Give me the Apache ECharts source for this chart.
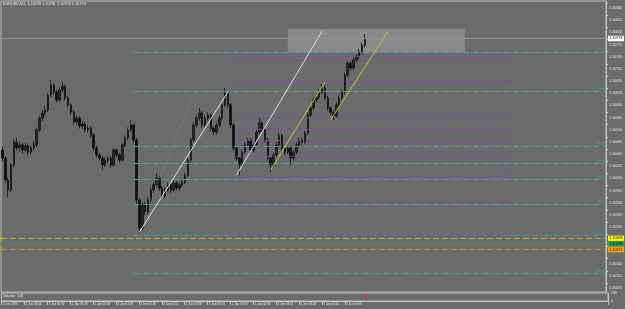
<!DOCTYPE html>
<html><head><meta charset="utf-8">
<script src="https://cdn.jsdelivr.net/npm/echarts@6/dist/echarts.min.js"></script>
<style>html,body{margin:0;padding:0;background:#6b6b6b;}#c{width:625px;height:309px;}</style>
</head><body><div id="c"></div>
<script>
// ---- data ----
const tickLabels = ["1 Jan 1970","1 Jan 00:16","1 Jan 00:32","1 Jan 00:48","1 Jan 01:04","1 Jan 01:20","1 Jan 01:36","1 Jan 01:52","1 Jan 02:08","1 Jan 02:24","1 Jan 02:40","1 Jan 02:56","1 Jan 03:12","1 Jan 03:28","1 Jan 03:44","1 Jan 04:00"];
const priceTicks = [1.10880,1.10845,1.10810,1.10775,1.10740,1.10705,1.10670,1.10635,1.10600,1.10565,1.10530,1.10495,1.10460,1.10425,1.10390,1.10355,1.10320,1.10285,1.10250,1.10215,1.10180,1.10145,1.10110,1.10075];
const volumeTicks = [0, 136];

const open = [1.10457,1.10434,1.10371,1.10342,1.10414,1.10480,1.10463,1.10472,1.10457,1.10469,
1.10451,1.10463,1.10472,1.10515,1.10549,1.10564,1.10572,1.10615,1.10644,1.10624,
1.10601,1.10630,1.10641,1.10607,1.10587,1.10566,1.10538,1.10549,1.10526,1.10532,
1.10515,1.10520,1.10500,1.10463,1.10443,1.10434,1.10414,1.10428,1.10434,1.10414,
1.10457,1.10443,1.10428,1.10472,1.10492,1.10515,1.10529,1.10486,1.10313,1.10233,
1.10299,1.10279,1.10313,1.10342,1.10357,1.10377,1.10348,1.10325,1.10342,1.10357,
1.10342,1.10362,1.10348,1.10357,1.10365,1.10385,1.10428,1.10486,1.10529,1.10549,
1.10564,1.10529,1.10549,1.10558,1.10520,1.10509,1.10529,1.10549,1.10587,1.10621,
1.10587,1.10529,1.10463,1.10434,1.10414,1.10451,1.10472,1.10486,1.10457,1.10472,
1.10509,1.10535,1.10515,1.10486,1.10434,1.10414,1.10443,1.10472,1.10500,1.10463,
1.10451,1.10463,1.10434,1.10451,1.10472,1.10486,1.10480,1.10506,1.10558,1.10578,
1.10601,1.10610,1.10624,1.10636,1.10607,1.10578,1.10566,1.10555,1.10587,1.10607,
1.10624,1.10673,1.10707,1.10693,1.10716,1.10725,1.10739,1.10759];
const close = [1.10434,1.10371,1.10342,1.10414,1.10480,1.10463,1.10472,1.10457,1.10469,1.10451,
1.10463,1.10472,1.10515,1.10549,1.10564,1.10572,1.10615,1.10644,1.10624,1.10601,
1.10630,1.10641,1.10607,1.10587,1.10566,1.10538,1.10549,1.10526,1.10532,1.10515,
1.10520,1.10500,1.10463,1.10443,1.10434,1.10414,1.10428,1.10434,1.10414,1.10457,
1.10443,1.10428,1.10472,1.10492,1.10515,1.10529,1.10486,1.10313,1.10233,1.10299,
1.10279,1.10313,1.10342,1.10357,1.10377,1.10348,1.10325,1.10342,1.10357,1.10342,
1.10362,1.10348,1.10357,1.10365,1.10385,1.10428,1.10486,1.10529,1.10549,1.10564,
1.10529,1.10549,1.10558,1.10520,1.10509,1.10529,1.10549,1.10587,1.10621,1.10587,
1.10529,1.10463,1.10434,1.10414,1.10451,1.10472,1.10486,1.10457,1.10472,1.10509,
1.10535,1.10515,1.10486,1.10434,1.10414,1.10443,1.10472,1.10500,1.10463,1.10451,
1.10463,1.10434,1.10451,1.10472,1.10486,1.10480,1.10506,1.10558,1.10578,1.10601,
1.10610,1.10624,1.10636,1.10607,1.10578,1.10566,1.10555,1.10587,1.10607,1.10624,
1.10673,1.10707,1.10693,1.10716,1.10725,1.10739,1.10759,1.10778];
const low = [1.10425,1.10362,1.10322,1.10336,1.10408,1.10455,1.10452,1.10447,1.10450,1.10442,
1.10445,1.10456,1.10466,1.10509,1.10540,1.10555,1.10566,1.10608,1.10616,1.10594,
1.10596,1.10622,1.10600,1.10579,1.10558,1.10530,1.10531,1.10519,1.10518,1.10507,
1.10508,1.10493,1.10455,1.10436,1.10426,1.10400,1.10408,1.10420,1.10406,1.10410,
1.10437,1.10420,1.10424,1.10466,1.10486,1.10509,1.10478,1.10300,1.10218,1.10226,
1.10270,1.10272,1.10306,1.10334,1.10350,1.10340,1.10318,1.10319,1.10336,1.10334,
1.10337,1.10341,1.10340,1.10350,1.10359,1.10380,1.10422,1.10480,1.10522,1.10541,
1.10521,1.10524,1.10542,1.10512,1.10500,1.10503,1.10523,1.10543,1.10581,1.10579,
1.10520,1.10455,1.10426,1.10385,1.10408,1.10445,1.10465,1.10450,1.10450,1.10467,
1.10503,1.10508,1.10479,1.10427,1.10394,1.10408,1.10437,1.10466,1.10456,1.10443,
1.10445,1.10414,1.10428,1.10445,1.10466,1.10473,1.10474,1.10500,1.10551,1.10572,
1.10594,1.10603,1.10617,1.10600,1.10570,1.10558,1.10543,1.10549,1.10581,1.10600,
1.10618,1.10667,1.10685,1.10687,1.10709,1.10718,1.10732,1.10752];
const high = [1.10466,1.10440,1.10378,1.10420,1.10489,1.10492,1.10481,1.10478,1.10477,1.10475,
1.10470,1.10482,1.10521,1.10556,1.10572,1.10583,1.10622,1.10659,1.10650,1.10630,
1.10637,1.10653,1.10646,1.10613,1.10592,1.10572,1.10557,1.10555,1.10540,1.10538,
1.10528,1.10526,1.10506,1.10470,1.10450,1.10440,1.10435,1.10441,1.10440,1.10463,
1.10462,1.10449,1.10478,1.10499,1.10522,1.10543,1.10535,1.10492,1.10320,1.10306,
1.10310,1.10320,1.10350,1.10366,1.10391,1.10383,1.10354,1.10350,1.10364,1.10362,
1.10370,1.10368,1.10364,1.10372,1.10392,1.10435,1.10492,1.10536,1.10557,1.10578,
1.10570,1.10556,1.10566,1.10563,1.10526,1.10536,1.10556,1.10594,1.10636,1.10628,
1.10592,1.10535,1.10470,1.10440,1.10458,1.10480,1.10493,1.10492,1.10478,1.10515,
1.10549,1.10541,1.10520,1.10492,1.10440,1.10450,1.10479,1.10507,1.10505,1.10469,
1.10470,1.10468,1.10458,1.10479,1.10493,1.10492,1.10513,1.10565,1.10585,1.10608,
1.10618,1.10632,1.10647,1.10642,1.10613,1.10584,1.10572,1.10594,1.10614,1.10631,
1.10680,1.10714,1.10713,1.10723,1.10733,1.10747,1.10767,1.10791];

const volumeData = [[127, 120]];

// horizontal fibonacci levels (price) and their texts
const cyanLevels = [1.10738,1.10626,1.10467,1.10418,1.10372,1.10301,1.10211,1.10102];
const cyanTexts  = ["-27.2","0.0","38.2","50.0","61.8","78.6","100.0","127.2"];
const cyanRange  = [46, 211];
const purpleLevels = [1.10726,1.10654,1.10551,1.10516,1.10485,1.10439,1.10381,1.10306,1.10211];
const purpleTexts  = ["116.0","100.0","76.4","70.7","61.8","50.0","38.2","23.6","0.0"];
const purpleRange  = [82, 175];

// trend lines: [startIndex, startPrice, endIndex, endPrice]
const whiteLines  = [[48,1.10221,79,1.10624],[82,1.10385,112,1.10799]];
const yellowLines = [[94,1.10400,113,1.10653],[115,1.10544,135,1.10797]];
const faintLines  = [[52,1.10313,67,1.10615]];

// rectangle: [startIndex, topPrice, endIndex, bottomPrice]
const rectangle = [100,1.10805,162,1.10739];

// price level lines
const bidPrice = 1.10778;
const levelPrices = [1.10203, 1.10188, 1.10171];

const titleText = "EURUSD,M1  1.10759 1.10791 1.10752 1.10778";
const volumeText = "Volume: 136";

// ---- chart ----
const N = 212;
const categories = [];
for (let i = 0; i < N; i++) categories.push(String(i));
const candleData = open.map((o, i) => [o, close[i], low[i], high[i]]);
const labelInterval = (i) => i % 8 === 0 && i / 8 < tickLabels.length;

const FONT = 'Liberation Sans';
const cyanColor = '#3eaaa6', purpleColor = '#8b3fbf';
const levelStyles = [
  {line: '#b8aa3c', box: '#ffff00', text: '#000'},
  {line: '#4c8f6c', box: '#2fa05a', text: '#000'},
  {line: '#c58a2e', box: '#ffa000', text: '#000'}
];

const markLines = [];
cyanLevels.forEach((v, k) => markLines.push([
  {coord: [cyanRange[0], v], lineStyle: {color: cyanColor, width: 1, type: [5, 2, 1, 2]},
   label: {show: true, position: 'insideEndTop', formatter: cyanTexts[k], color: cyanColor, fontSize: 3.5, fontFamily: FONT, distance: 0.5}},
  {coord: [cyanRange[1], v]}
]));
purpleLevels.forEach((v, k) => markLines.push([
  {coord: [purpleRange[0], v], lineStyle: {color: purpleColor, width: 1, type: [5, 2, 1, 2]},
   label: {show: true, position: 'end', formatter: purpleTexts[k], color: purpleColor, fontSize: 3.5, fontFamily: FONT, distance: 1}},
  {coord: [purpleRange[1], v]}
]));
whiteLines.forEach(l => markLines.push([
  {coord: [l[0], l[1]], lineStyle: {color: '#e4e4e4', width: 1, type: 'solid'}, label: {show: false}},
  {coord: [l[2], l[3]]}
]));
yellowLines.forEach(l => markLines.push([
  {coord: [l[0], l[1]], lineStyle: {color: '#c9c140', width: 1, type: 'solid'}, label: {show: false}},
  {coord: [l[2], l[3]]}
]));
faintLines.forEach(l => markLines.push([
  {coord: [l[0], l[1]], lineStyle: {color: '#8c8c8c', width: 1, type: [1, 2]}, label: {show: false}},
  {coord: [l[2], l[3]]}
]));
levelPrices.forEach((v, k) => markLines.push({
  yAxis: v, symbol: ['rect', 'none'], symbolSize: 3, itemStyle: {color: levelStyles[k].box},
  lineStyle: {color: levelStyles[k].line, width: 1, type: [6, 3]},
  label: {show: true, position: 'end', distance: 2, formatter: v.toFixed(5), color: levelStyles[k].text,
          backgroundColor: levelStyles[k].box, fontSize: 3.6, fontFamily: FONT, padding: [0.8, 1.5]}
}));
markLines.push({
  yAxis: bidPrice, lineStyle: {color: '#8495a6', width: 1, type: 'solid'},
  label: {show: true, position: 'end', distance: 2, formatter: bidPrice.toFixed(5), color: '#000',
          backgroundColor: '#ffffff', fontSize: 3.6, fontFamily: FONT, padding: [0.8, 1.5]}
});

const chart = echarts.init(document.getElementById('c'), null, {renderer: 'canvas'});
chart.setOption({
  backgroundColor: '#6b6b6b',
  animation: false,
  textStyle: {fontFamily: FONT},
  title: [
    {text: titleText, left: 3, top: 2, padding: 0, textStyle: {fontSize: 3.8, color: '#e8e8e8', fontWeight: 'normal', fontFamily: FONT}},
    {text: volumeText, left: 3, top: 294, padding: 0, textStyle: {fontSize: 3.6, color: '#e8e8e8', fontWeight: 'normal', fontFamily: FONT}}
  ],
  grid: [
    {left: 1, right: 17, top: 1, height: 291, show: true, borderColor: '#bdbdbd', borderWidth: 1},
    {left: 1, right: 17, top: 293, height: 8, show: true, borderColor: '#bdbdbd', borderWidth: 1}
  ],
  xAxis: [
    {type: 'category', gridIndex: 0, data: categories, show: false},
    {type: 'category', gridIndex: 1, data: categories,
     axisLine: {show: true, lineStyle: {color: '#c8c8c8'}},
     axisTick: {show: true, interval: labelInterval, length: 4, lineStyle: {color: '#c8c8c8'}},
     axisLabel: {interval: labelInterval, formatter: (v, i) => tickLabels[i / 8], align: 'left',
                 fontSize: 3, color: '#e8e8e8', margin: 1.5, fontFamily: FONT}}
  ],
  yAxis: [
    {type: 'value', gridIndex: 0, position: 'right', min: 1.100489, max: 1.108858, scale: true,
     splitLine: {show: false},
     axisLine: {show: true, lineStyle: {color: '#c8c8c8'}},
     axisTick: {show: true, customValues: priceTicks, length: 2, lineStyle: {color: '#c8c8c8'}},
     axisLabel: {customValues: priceTicks, formatter: v => v.toFixed(5), fontSize: 3.6, color: '#e8e8e8',
                 margin: 3, verticalAlign: 'top', padding: [3, 0, 0, 0], fontFamily: FONT}},
    {type: 'value', gridIndex: 1, position: 'right', min: 0, max: 136,
     splitLine: {show: false},
     axisLine: {show: true, lineStyle: {color: '#c8c8c8'}},
     axisTick: {show: false},
     axisLabel: {customValues: volumeTicks, fontSize: 3.6, color: '#e8e8e8', margin: 3, fontFamily: FONT}}
  ],
  series: [
    {type: 'line', xAxisIndex: 0, yAxisIndex: 0, data: [], z: 1, silent: true,
     markArea: {silent: true, itemStyle: {color: '#8a8a8a'},
       data: [[{coord: [rectangle[0], rectangle[1]]}, {coord: [rectangle[2], rectangle[3]]}]]}},
    {type: 'candlestick', xAxisIndex: 0, yAxisIndex: 0, data: candleData, z: 3, barWidth: 2,
     itemStyle: {color: '#2c2c2c', color0: '#0f0f0f', borderColor: '#111111', borderColor0: '#111111', borderWidth: 0.8}},
    {type: 'line', xAxisIndex: 0, yAxisIndex: 0, data: [], z: 5, silent: true,
     markLine: {silent: true, symbol: 'none', animation: false, precision: 5, data: markLines}},
    {type: 'bar', xAxisIndex: 1, yAxisIndex: 1, data: volumeData, barWidth: 1,
     itemStyle: {color: '#e01e1e'}}
  ]
});
</script></body></html>
